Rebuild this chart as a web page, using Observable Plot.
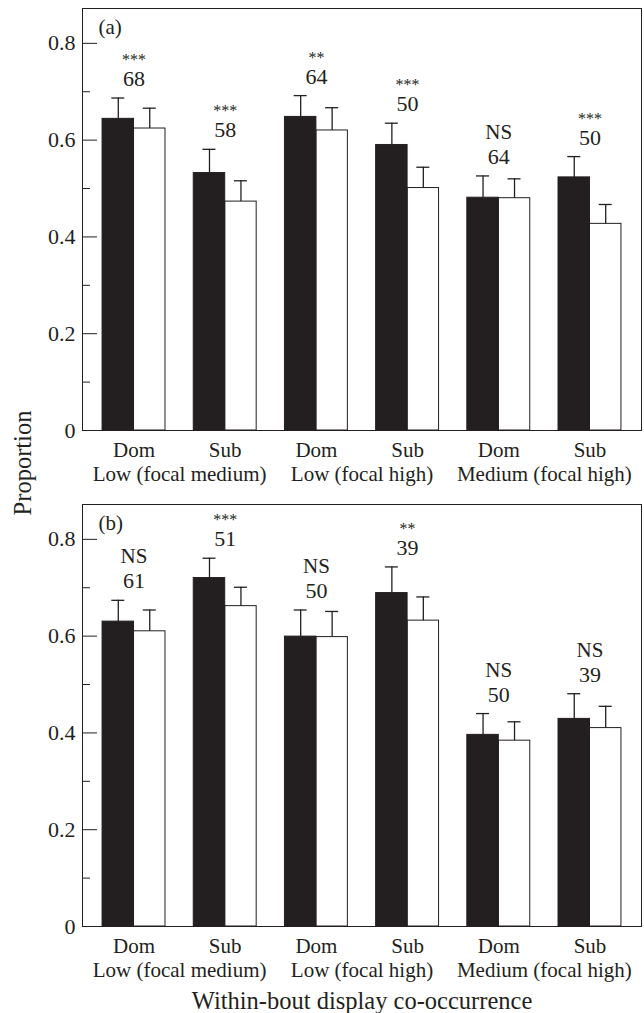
<!DOCTYPE html>
<html><head><meta charset="utf-8">
<script src="https://cdn.jsdelivr.net/npm/d3@7"></script>
<script src="https://cdn.jsdelivr.net/npm/@observablehq/plot@0.6"></script>
<style>
body{margin:0;background:#fff;}
#wrap{position:relative;width:644px;height:1013px;font-family:"Liberation Serif",serif;color:#231f20;}
#wrap svg{display:block;}
#wrap svg, #wrap svg text{font-family:"Liberation Serif",serif !important;font-variant:normal !important;}
#ylab{position:absolute;left:23px;top:463px;transform:translate(-50%,-50%) rotate(-90deg);font-size:24.5px;white-space:nowrap;}
</style></head><body><div id="wrap"><div id="ylab">Proportion</div></div>
<script>
// ---- data ----
const pairs = ["Low (focal medium)", "Low (focal high)", "Medium (focal high)"];
const roles = ["Dom", "Sub"];
const yTicks = [0, 0.2, 0.4, 0.6, 0.8];
const yMinorTicks = [0.1, 0.3, 0.5, 0.7];

// panel (a)
const aBlack   = [0.644, 0.532, 0.648, 0.590, 0.481, 0.523];
const aBlackSE = [0.043, 0.049, 0.044, 0.045, 0.045, 0.043];
const aWhite   = [0.624, 0.473, 0.620, 0.501, 0.480, 0.427];
const aWhiteSE = [0.042, 0.043, 0.047, 0.043, 0.040, 0.040];
const aN       = [68, 58, 64, 50, 64, 50];
const aSig     = ["***", "***", "**", "***", "NS", "***"];

// panel (b)
const bBlack   = [0.630, 0.720, 0.599, 0.689, 0.396, 0.429];
const bBlackSE = [0.044, 0.041, 0.055, 0.054, 0.044, 0.052];
const bWhite   = [0.610, 0.662, 0.598, 0.632, 0.384, 0.410];
const bWhiteSE = [0.044, 0.039, 0.053, 0.049, 0.039, 0.045];
const bN       = [61, 51, 50, 39, 50, 39];
const bSig     = ["NS", "***", "NS", "**", "NS", "NS"];

// ---- layout ----
const INK = "#231f20";
const FONT = "'Liberation Serif', serif";
const W = 644, ML = 82, MR = 3, PIN = 0.31, POUT = 0.22;
const groups = pairs.flatMap(p => roles.map(r => p + " | " + r));
const step = (W - ML - MR) / (groups.length - PIN + 2 * POUT);
const bw = step * (1 - PIN);
const half = bw / 2;
const capW = 13;
const frameW = W - ML - MR;

function makeRows(black, blackSE, white, whiteSE, n, sig) {
  return groups.map((g, i) => ({
    group: g,
    pair: pairs[Math.floor(i / 2)],
    role: roles[i % 2],
    black: black[i], blackTop: black[i] + blackSE[i],
    white: white[i], whiteTop: white[i] + whiteSE[i],
    n: String(n[i]), sig: sig[i]
  }));
}

function panel(rows, tag, height, marginBottom, extra) {
  const top = d => Math.max(d.blackTop, d.whiteTop);
  return Plot.plot({
    width: W, height,
    marginLeft: ML, marginRight: MR, marginTop: 8, marginBottom,
    style: {fontFamily: FONT, fontSize: "22px", color: INK, background: "#fff"},
    x: {type: "band", domain: groups, paddingInner: PIN, paddingOuter: POUT, round: false, axis: null},
    y: {domain: [0, 0.872], axis: null},
    marks: [
      Plot.barY(rows, {x: "group", y: "white", fill: "#fff", stroke: INK, strokeWidth: 1, insetLeft: half}),
      Plot.barY(rows, {x: "group", y: "black", fill: INK, stroke: INK, strokeWidth: 1, insetRight: half}),
      Plot.ruleX(rows, {x: "group", y1: "black", y2: "blackTop", dx: -half / 2, stroke: INK, strokeWidth: 1.3}),
      Plot.tickY(rows, {x: "group", y: "blackTop", stroke: INK, strokeWidth: 1.3,
        insetLeft: half / 2 - capW / 2, insetRight: bw - half / 2 - capW / 2}),
      Plot.ruleX(rows, {x: "group", y1: "white", y2: "whiteTop", dx: half / 2, stroke: INK, strokeWidth: 1.3}),
      Plot.tickY(rows, {x: "group", y: "whiteTop", stroke: INK, strokeWidth: 1.3,
        insetLeft: 1.5 * half - capW / 2, insetRight: half / 2 - capW / 2}),
      Plot.frame({stroke: INK, strokeWidth: 1}),
      Plot.tickY(yTicks, {y: d => d, stroke: INK, strokeWidth: 1, insetRight: frameW - 15}),
      Plot.tickY(yMinorTicks, {y: d => d, stroke: INK, strokeWidth: 1, insetRight: frameW - 8}),
      Plot.axisY(yTicks, {tickSize: 0, tickPadding: 7, fontSize: 22, fill: INK, fontFamily: FONT,
        tickFormat: d => d === 0 ? "0" : d.toFixed(1), label: null}),
      // annotations
      Plot.text(rows, {x: "group", y: top, text: "n", dy: -12, lineAnchor: "bottom", fontSize: 22, fill: INK}),
      Plot.text(rows.filter(d => d.sig === "NS"), {x: "group", y: top, text: "sig", dy: -37, lineAnchor: "bottom", fontSize: 21, fill: INK}),
      Plot.text(rows.filter(d => d.sig !== "NS"), {x: "group", y: top, text: "sig", dy: -33, lineAnchor: "bottom", fontSize: 16, fill: INK}),
      // panel tag
      Plot.text([tag], {text: d => d, frameAnchor: "top-left", dx: 16, dy: 19, textAnchor: "start", lineAnchor: "middle", fontSize: 21, fill: INK}),
      // x labels
      Plot.text(rows, {x: "group", text: "role", frameAnchor: "bottom", dy: 26, lineAnchor: "bottom", fontSize: 21, fill: INK}),
      Plot.text(rows.filter(d => d.role === "Dom"), {x: "group", text: "pair", frameAnchor: "bottom", dx: step / 2, dy: 50, lineAnchor: "bottom", fontSize: 21, fill: INK}),
      ...extra
    ]
  });
}

const rowsA = makeRows(aBlack, aBlackSE, aWhite, aWhiteSE, aN, aSig);
const rowsB = makeRows(bBlack, bBlackSE, bWhite, bWhiteSE, bN, bSig);

const wrap = document.getElementById("wrap");
wrap.appendChild(panel(rowsA, "(a)", 496, 66, []));
wrap.appendChild(panel(rowsB, "(b)", 517, 87, [
  Plot.text(["Within-bout display co-occurrence"], {text: d => d, frameAnchor: "bottom", dy: 82, lineAnchor: "bottom", fontSize: 24.5, fill: INK})
]));
</script></body></html>
